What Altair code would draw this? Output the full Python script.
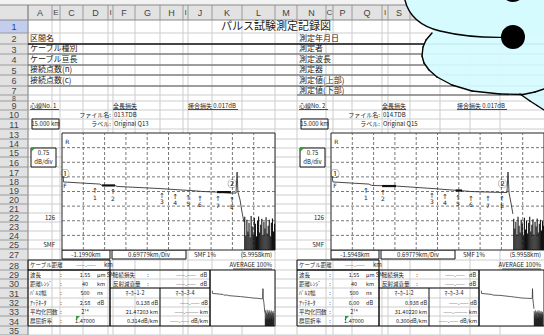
import altair as alt
import numpy as np
import pandas as pd

W, H = 544, 335
JP = "Noto Sans CJK JP"
LAT = "Liberation Sans"
SYM = "DejaVu Sans"
CYAN = "#d6fbff"

# ---------------- spreadsheet structure ----------------
col_names = ["", "A", "E", "C", "D", "I", "F", "G", "H", "I", "J", "K", "L",
             "M", "N", "C", "P", "Q", "I", "S", "T", "U", "V", "W"]
col_widths = [28, 24, 8, 23, 25, 5, 22, 25, 23, 5, 24, 30, 33,
              22, 29, 7, 19, 30, 6, 22, 30, 30, 30, 44]
row_labels = ["1", "2", "3", "4", "5", "6", "7", "8", "9", "10", "11",
              "13", "14", "15", "16", "17", "18", "19", "20", "21", "22", "23", "24", "25",
              "27", "28", "29", "30", "31", "32", "33", "34", "35"]
row_heights = [13, 11, 10, 11, 10, 11, 9, 6, 9, 9, 10,
               10, 9, 9, 10, 10, 9, 9, 9, 9, 9, 9, 9, 9,
               11, 10, 9, 9, 10, 9, 9, 10, 9]

# ---------------- sheet texts ----------------
title_text = "パルス試験測定記録図"
left_form_labels = ["区間名", "ケーブル種別", "ケーブル亘長", "接続点数(n)", "接続点数(c)"]
right_form_labels = ["測定年月日", "測定者", "測定波長", "測定器", "測定値(上部)", "測定値(下部)"]
param_labels = ["波長", "距離ﾚﾝｼﾞ", "ﾊﾟﾙｽ幅", "ｱｯﾃﾈｰﾀ", "平均化回数", "群屈折率"]
param_units = ["μm SM", "km", "ns", "dB", "", ""]
loss_labels = ["接続損失", "反射減衰量"]
marker_heads = ["ﾏｰｶｰ1-2", "ﾏｰｶｰ3-4"]
m34_values = ["——.—— dB", "——.——— km", "——.—— dB/km"]
core_names = ["心線No. 1", "心線No. 2"]
file_names = ["013.TDB", "014.TDB"]
trace_names = ["Original Q13", "Original Q15"]
range_texts = ["15.000 km", "15.000 km"]
scale_texts = ["0.75", "0.75"]
ch_texts = ["126", "126"]
fiber_texts = ["SMF", "SMF"]
start_texts = ["-1.1990km", "-1.5948km"]
div_texts = ["0.69779km/Div", "0.69779km/Div"]
ior_texts = ["SMF 1%", "SMF 1%"]
total_texts = ["(5.9958km)", "(5.9958km)"]
avg_text = "AVERAGE 100%"
splice_text = "接合損失 0.017dB"
total_loss_label = "全長損失"
param_values = [["1.55", "40", "500", "2.58", "2¹⁴", "1.47000"],
                ["1.55", "40", "500", "6.00", "2¹⁴", "1.47000"]]
m12_values = [["0.138 dB", "21.47203 km", "0.314dB/km"],
              ["0.938 dB", "31.40220 km", "0.300dB/km"]]

# ---------------- OTDR traces (distance in divisions, level in dB) ----------------
trace_dist = [
    [0.05, 0.07, 1.78, 1.88, 2.49, 2.58, 4.60, 5.31, 6.01, 6.62, 7.28, 7.93, 8.17, 8.22, 8.26, 8.36, 8.45, 8.54],
    [0.05, 0.09, 1.78, 1.92, 3.05, 4.79, 5.40, 6.01, 6.57, 7.37, 8.12, 8.26, 8.31, 8.36, 8.45, 8.54],
]
trace_db = [
    [3.79, 3.49, 3.38, 3.31, 3.31, 3.26, 3.15, 3.10, 3.05, 3.00, 2.97, 2.92, 2.92, 4.00, 2.97, 2.56, 1.95, 1.44],
    [3.79, 3.49, 3.38, 3.31, 3.28, 3.15, 3.10, 3.05, 3.00, 2.97, 2.95, 2.95, 4.00, 2.92, 2.41, 1.85],
]
noise_dist = [8.58, 8.63, 8.68, 8.73, 8.78, 8.83, 8.88, 8.93, 8.98, 9.03, 9.08, 9.13, 9.18, 9.23, 9.28,
              9.33, 9.38, 9.43, 9.48, 9.53, 9.58, 9.63, 9.68, 9.73, 9.78, 9.83, 9.88, 9.93, 9.98]
noise_db = [
    [1.70, 0.75, 1.55, 0.95, 1.40, 0.65, 1.75, 1.20, 0.80, 1.65, 1.35, 0.70, 1.50, 1.72, 0.90,
     1.30, 1.60, 0.75, 1.45, 1.10, 1.68, 0.85, 1.25, 1.55, 0.70, 1.40, 1.62, 0.95, 1.35],
    [1.60, 1.10, 1.45, 0.80, 1.70, 1.25, 0.90, 1.55, 1.35, 0.75, 1.65, 1.05, 1.50, 0.85, 1.40,
     1.70, 0.95, 1.30, 1.58, 0.80, 1.45, 1.20, 1.62, 0.90, 1.35, 1.55, 1.00, 1.48, 1.25],
]
event_labels = ["1", "2", "3", "4", "5", "6", "7", "E"]
event_dist = [[1.55, 2.39, 4.69, 5.31, 5.92, 6.48, 7.32, 7.98],
              [1.64, 2.44, 4.74, 5.35, 5.96, 6.57, 7.37, 8.03]]
event_db = [[3.38, 3.31, 3.15, 3.10, 3.05, 3.00, 2.97, 2.92],
            [3.38, 3.30, 3.15, 3.10, 3.05, 3.00, 2.97, 2.95]]
thick_from = [[1.88, 7.28], [2.40, 5.85]]
thick_to = [[2.49, 7.93], [3.05, 6.15]]
thick_db = [[3.31, 2.97], [3.28, 3.05]]
circle_marks = ["①", "②"]
circle_dist = [[0.14, 7.98], [0.19, 8.05]]
circle_db = [[3.90, 3.38], [3.90, 3.40]]
grid_dist = [1, 2, 3, 4, 5, 6, 7, 8, 9]
grid_db = [0.75, 1.5, 2.25, 3.0, 3.75, 4.5, 5.25]

# ---------------- layout ----------------
HEAD_TOP, HEAD_BOT = 5, 20
BLOCK_X = [28, 297]
PLOT_DX, PLOT_Y = (34, 247), (250, 133)
MINI_DX, MINI_Y = (184, 246), (326, 270)
SHEET_X = [-100, 800]
SHEET_Y = [-100, 500]

col_edges = [0]
for w in col_widths:
    col_edges.append(col_edges[-1] + w)
row_edges = [HEAD_BOT]
for h in row_heights:
    row_edges.append(row_edges[-1] + h)
row_top = {lab: row_edges[i] for i, lab in enumerate(row_labels)}
row_bot = {lab: row_edges[i + 1] for i, lab in enumerate(row_labels)}


def rc(lab):
    return (row_top[lab] + row_bot[lab]) / 2


def sx():
    return alt.Scale(domain=SHEET_X, range=SHEET_X, nice=False, zero=False)


def sy():
    return alt.Scale(domain=SHEET_Y, range=SHEET_Y, nice=False, zero=False)


def rect_layer(rows, **mark):
    df = pd.DataFrame(rows, columns=["x0", "x1", "y0", "y1", "fill"])
    return alt.Chart(df).mark_rect(**mark).encode(
        x=alt.X("x0:Q", scale=sx(), axis=None), x2="x1:Q",
        y=alt.Y("y0:Q", scale=sy(), axis=None), y2="y1:Q",
        fill=alt.Fill("fill:N", scale=None))


def rule_layer(rows, **mark):
    df = pd.DataFrame(rows, columns=["x0", "x1", "y0", "y1", "c", "w"])
    return alt.Chart(df).mark_rule(**mark).encode(
        x=alt.X("x0:Q", scale=sx(), axis=None), x2="x1:Q",
        y=alt.Y("y0:Q", scale=sy(), axis=None), y2="y1:Q",
        color=alt.Color("c:N", scale=None),
        strokeWidth=alt.StrokeWidth("w:Q", scale=None))


texts = []


def add(x, y, text, align="left", size=6, color="#222", font=JP):
    texts.append(dict(x=x, y=y, text=text, align=align, size=size, color=color, font=font))


layers = []

# background bands
layers.append(rect_layer([
    (0, W, 0, HEAD_TOP, "#f2f2f2"),
    (0, W, HEAD_TOP, HEAD_BOT, "#e2e2e2"),
    (0, col_edges[1], HEAD_BOT, H, "#e2e2e2"),
    (0, col_edges[1], row_top["1"], row_bot["1"], "#c3cdee"),
]))

# grid lines
grid = []
for e in col_edges[1:-1]:
    grid.append((e, e, HEAD_BOT, H, "#cdcdcd", 1))
    grid.append((e, e, HEAD_TOP, HEAD_BOT, "#9a9a9a", 1))
for r in row_edges[1:]:
    grid.append((col_edges[1], W, r, r, "#cdcdcd", 1))
    grid.append((0, col_edges[1], r, r, "#9a9a9a", 1))
grid.append((0, W, HEAD_TOP, HEAD_TOP, "#8a8a8a", 1))
grid.append((0, W, HEAD_BOT, HEAD_BOT, "#8a8a8a", 1))
grid.append((col_edges[1], col_edges[1], HEAD_TOP, H, "#8a8a8a", 1))
layers.append(rule_layer(grid))

# form lines (rows 2-7)
form = [(BLOCK_X[0], W, row_bot["2"], row_bot["2"], "#111", 1.6)]
for lab in ["3", "4", "5", "6"]:
    form.append((BLOCK_X[0], W, row_bot[lab], row_bot[lab], "#555", 1))
form.append((BLOCK_X[1], W, row_bot["7"], row_bot["7"], "#555", 1))
layers.append(rule_layer(form))

# header texts
for i, name in enumerate(col_names):
    if name:
        add((col_edges[i] + col_edges[i + 1]) / 2, (HEAD_TOP + HEAD_BOT) / 2 + 0.5, name,
            "center", 9 if col_widths[i] > 8 else 8, "#444", LAT)
for lab in row_labels:
    add(col_edges[1] / 2, rc(lab) + 0.5, lab, "center", 9 if row_bot[lab] - row_top[lab] > 7 else 7,
        "#1f3f8f" if lab == "1" else "#444", LAT)

add(276, rc("1") + 0.5, title_text, "center", 11, "#222")
for i, t in enumerate(left_form_labels):
    add(BLOCK_X[0] + 2, rc(str(i + 2)), t, "left", 8)
for i, t in enumerate(right_form_labels):
    add(BLOCK_X[1] + 2, rc(str(i + 2)), t, "left", 8)

white_boxes, open_boxes, inner_lines, underlines, greens = [], [], [], [], []
for b in range(2):
    bx = BLOCK_X[b]
    add(bx + 2, rc("9"), core_names[b])
    add(bx + 85, rc("9"), total_loss_label)
    add(bx + 160, rc("9"), splice_text)
    underlines += [(bx + 2, bx + 31, rc("9") + 4, rc("9") + 4, "#222", 0.8),
                   (bx + 85, bx + 109, rc("9") + 4, rc("9") + 4, "#222", 0.8),
                   (bx + 160, bx + 210, rc("9") + 4, rc("9") + 4, "#222", 0.8),
                   (bx + 205, bx + 244, rc("28") + 4, rc("28") + 4, "#222", 0.8)]
    add(bx + 83, rc("10"), "ファイル名:", "right")
    add(bx + 86, rc("10"), file_names[b])
    add(bx + 83, rc("11"), "ラベル:", "right")
    add(bx + 86, rc("11"), trace_names[b])
    white_boxes.append((bx + 4, bx + 31, row_top["11"], row_bot["11"], "white"))
    add(bx + 17.5, rc("11"), range_texts[b], "center")
    white_boxes.append((bx + 3, bx + 28, row_top["15"], row_bot["16"], "white"))
    add(bx + 15.5, rc("15"), scale_texts[b], "center")
    add(bx + 15.5, rc("16"), "dB/div", "center")
    greens.append((bx + 5, row_top["15"] + 2))
    add(bx + 27, rc("22"), ch_texts[b], "right")
    add(bx + 27, rc("25"), fiber_texts[b], "right")
    # row 27
    white_boxes.append((bx + 34, bx + 82, row_top["27"] + 1, row_bot["27"] - 1, "white"))
    white_boxes.append((bx + 84, bx + 158, row_top["27"] + 1, row_bot["27"] - 1, "white"))
    add(bx + 58, rc("27"), start_texts[b], "center")
    add(bx + 121, rc("27"), div_texts[b], "center")
    add(bx + 177, rc("27"), ior_texts[b], "center")
    add(bx + 244, rc("27"), total_texts[b], "right")
    # row 28
    open_boxes.append((bx, bx + 82, row_top["28"], row_bot["28"], "none"))
    add(bx + 2, rc("28"), "ケーブル距離", size=5.5)
    add(bx + 58, rc("28"), "——.——", "center", 5.5)
    add(bx + 76, rc("28"), "km")
    add(bx + 244, rc("28"), avg_text, "right")
    # table rows 29-34
    rows6 = ["29", "30", "31", "32", "33", "34"]
    open_boxes.append((bx, bx + 82, row_top["29"], row_bot["34"], "none"))
    open_boxes.append((bx + 82, bx + 182, row_top["29"], row_bot["34"], "none"))
    inner_lines.append((bx + 82, bx + 182, row_top["31"], row_top["31"], "#111", 1))
    inner_lines.append((bx + 132, bx + 132, row_top["31"], row_bot["34"], "#111", 1))
    for k, r in enumerate(rows6):
        add(bx + 2, rc(r), param_labels[k], size=5.5)
        add(bx + 33, rc(r), ":", "center", 5.5)
        add(bx + 57, rc(r), param_values[b][k], "center", 5.5)
        add(bx + 69, rc(r), param_units[k], size=5.5)
    greens.append((bx + 50, row_top["34"] + 2))
    for k, r in enumerate(["29", "30"]):
        add(bx + 85, rc(r), loss_labels[k], size=5.5)
        add(bx + 120, rc(r), ":", "center", 5.5)
        add(bx + 168, rc(r), "——.——", "right", 5.5)
        add(bx + 172, rc(r), "dB", size=5.5)
    add(bx + 107, rc("31"), marker_heads[0], "center", 5.5)
    add(bx + 157, rc("31"), marker_heads[1], "center", 5.5)
    for k, r in enumerate(["32", "33", "34"]):
        add(bx + 130, rc(r), m12_values[b][k], "right", 5.5)
        add(bx + 180, rc(r), m34_values[k], "right", 5.5)
    # mini panel background
    white_boxes.append((bx + MINI_DX[0] - 2, min(bx + MINI_DX[1] + 1, W), row_top["29"], row_bot["34"], "white"))

layers.append(rect_layer(white_boxes, stroke="#111", strokeWidth=1))
layers.append(alt.Chart(pd.DataFrame(open_boxes, columns=["x0", "x1", "y0", "y1", "fill"])).mark_rect(
    fillOpacity=0, stroke="#111", strokeWidth=1).encode(
    x=alt.X("x0:Q", scale=sx(), axis=None), x2="x1:Q",
    y=alt.Y("y0:Q", scale=sy(), axis=None), y2="y1:Q"))
layers.append(rule_layer(inner_lines + underlines))

# ---------------- OTDR plots ----------------
for b in range(2):
    bx = BLOCK_X[b]

    def PX():
        return alt.Scale(domain=[0, 10], range=[bx + PLOT_DX[0], bx + PLOT_DX[1]], nice=False, zero=False)

    def PY():
        return alt.Scale(domain=[0, 6], range=[PLOT_Y[0], PLOT_Y[1]], nice=False, zero=False)

    def MX():
        return alt.Scale(domain=[0, 10], range=[bx + MINI_DX[0], bx + MINI_DX[1]], nice=False, zero=False)

    def MY():
        return alt.Scale(domain=[0, 6], range=[MINI_Y[0], MINI_Y[1]], nice=False, zero=False)

    frame = pd.DataFrame({"a": [0], "b": [10], "lo": [0], "hi": [6]})
    layers.append(alt.Chart(frame).mark_rect(fill="white", stroke="#222", strokeWidth=1).encode(
        x=alt.X("a:Q", scale=PX(), axis=None), x2="b:Q",
        y=alt.Y("lo:Q", scale=PY(), axis=None), y2="hi:Q"))
    gx = pd.DataFrame({"d": grid_dist, "lo": 0, "hi": 6})
    layers.append(alt.Chart(gx).mark_rule(color="#555", strokeWidth=0.8, strokeDash=[3, 2]).encode(
        x=alt.X("d:Q", scale=PX(), axis=None),
        y=alt.Y("lo:Q", scale=PY(), axis=None), y2="hi:Q"))
    gy = pd.DataFrame({"v": grid_db, "lo": 0, "hi": 10})
    layers.append(alt.Chart(gy).mark_rule(color="#555", strokeWidth=0.8, strokeDash=[3, 2]).encode(
        x=alt.X("lo:Q", scale=PX(), axis=None), x2="hi:Q",
        y=alt.Y("v:Q", scale=PY(), axis=None)))

    tr = pd.DataFrame({"d": trace_dist[b], "db": trace_db[b], "i": list(range(len(trace_db[b])))})
    nz = pd.DataFrame({"d": noise_dist, "db": noise_db[b], "z": 0})
    for xs, ys, lw, nw in [(PX, PY, 0.9, 1.1), (MX, MY, 0.8, 0.6)]:
        layers.append(alt.Chart(tr).mark_line(color="#333", strokeWidth=lw).encode(
            x=alt.X("d:Q", scale=xs(), axis=None),
            y=alt.Y("db:Q", scale=ys(), axis=None),
            order="i:Q"))
        layers.append(alt.Chart(nz).mark_rule(color="#111", strokeWidth=nw).encode(
            x=alt.X("d:Q", scale=xs(), axis=None),
            y=alt.Y("db:Q", scale=ys(), axis=None), y2="z:Q"))

    th = pd.DataFrame({"a": thick_from[b], "b": thick_to[b], "db": thick_db[b]})
    layers.append(alt.Chart(th).mark_rule(color="#111", strokeWidth=2.2).encode(
        x=alt.X("a:Q", scale=PX(), axis=None), x2="b:Q",
        y=alt.Y("db:Q", scale=PY(), axis=None)))

    ev = pd.DataFrame({"d": event_dist[b], "db": event_db[b], "t": event_labels})
    layers.append(alt.Chart(ev).mark_text(font=SYM, fontSize=7, dy=7, color="#222").encode(
        x=alt.X("d:Q", scale=PX(), axis=None),
        y=alt.Y("db:Q", scale=PY(), axis=None),
        text=alt.value("↑")))
    layers.append(alt.Chart(ev).mark_text(font=SYM, fontSize=6, dy=13.5, color="#222").encode(
        x=alt.X("d:Q", scale=PX(), axis=None),
        y=alt.Y("db:Q", scale=PY(), axis=None),
        text="t:N"))
    cm = pd.DataFrame({"d": circle_dist[b], "db": circle_db[b], "t": circle_marks})
    layers.append(alt.Chart(cm).mark_text(font=JP, fontSize=9, color="#222").encode(
        x=alt.X("d:Q", scale=PX(), axis=None),
        y=alt.Y("db:Q", scale=PY(), axis=None),
        text="t:N"))
    fl = pd.DataFrame({"d": [circle_dist[b][0], 0.25], "db": [3.49, 5.75], "t": ["F", "R"]})
    layers.append(alt.Chart(fl).mark_text(font=SYM, fontSize=6, dy=4, color="#222").encode(
        x=alt.X("d:Q", scale=PX(), axis=None),
        y=alt.Y("db:Q", scale=PY(), axis=None),
        text="t:N"))

# green markers
gdf = pd.DataFrame(greens, columns=["x", "y"])
layers.append(alt.Chart(gdf).mark_point(shape="M -1 -1 L 1 -1 L -1 1 Z", size=16, filled=True,
                                        fill="#2f9a3a", opacity=1, strokeWidth=0).encode(
    x=alt.X("x:Q", scale=sx(), axis=None), y=alt.Y("y:Q", scale=sy(), axis=None)))

# sheet texts
tdf = pd.DataFrame(texts)
for (al, ft), g in tdf.groupby(["align", "font"]):
    layers.append(alt.Chart(g.reset_index(drop=True)).mark_text(align=al, baseline="middle", font=ft).encode(
        x=alt.X("x:Q", scale=sx(), axis=None),
        y=alt.Y("y:Q", scale=sy(), axis=None),
        text="text:N",
        size=alt.Size("size:Q", scale=None),
        color=alt.Color("color:N", scale=None)))

# ---------------- cloud callout ----------------
# lower lobes: cyan scan-line fill bounded by the lobe outline, then the outline itself
lobe_left_x = [434, 432, 426, 423, 422, 424, 429, 437, 452, 472, 500, 521, 530, 537, 544]
lobe_left_y = [28, 33, 40, 47, 56, 63, 70, 77, 85, 91, 94, 95, 101, 105.5, 110]
scan = []
for yy in np.arange(28.0, 110.0, 1.0):
    xl = float(np.interp(yy, lobe_left_y, lobe_left_x))
    scan.append((xl, W + 2, yy, yy, CYAN, 1.6))
layers.append(rule_layer(scan))
lower_edge_x = [432, 426, 423, 422, 424, 429, 437, 452, 472, 500, 523, 535, 544]
lower_edge_y = [33, 40, 47, 56, 63, 70, 77, 85, 91, 94, 94.5, 92, 89]
puff_edge_x = [520, 530, 537, 544]
puff_edge_y = [94, 101, 105.5, 110]
edges = []
for ex, ey in [(lower_edge_x, lower_edge_y), (puff_edge_x, puff_edge_y)]:
    for k in range(len(ex) - 1):
        edges.append((ex[k], ex[k + 1], ey[k], ey[k + 1], "black", 1.4))
layers.append(rule_layer(edges, strokeCap="round"))

# upper lobe
cloud_anchor = pd.DataFrame({"x": [490], "y": [0]})
top_fill = "M -86 -5 C -84 10 -75 25 -50 31 C -25 37 5 38 25 37 C 50 36 70 30 90 20 L 90 -5 Z"
top_edge = "M -86 -5 C -84 10 -75 25 -50 31 C -25 37 5 38 25 37"
layers.append(alt.Chart(cloud_anchor).mark_point(shape=top_fill, size=4, filled=True, fill=CYAN,
                                                 strokeWidth=0, opacity=1).encode(
    x=alt.X("x:Q", scale=sx(), axis=None), y=alt.Y("y:Q", scale=sy(), axis=None)))
layers.append(alt.Chart(cloud_anchor).mark_point(shape=top_edge, size=4, filled=False,
                                                 stroke="black", strokeWidth=1.4, opacity=1).encode(
    x=alt.X("x:Q", scale=sx(), axis=None), y=alt.Y("y:Q", scale=sy(), axis=None)))
dots = pd.DataFrame({"x": [513, 513], "y": [37, -10]})
layers.append(alt.Chart(dots).mark_point(shape="circle", size=576, filled=True, fill="black",
                                         opacity=1, strokeWidth=0).encode(
    x=alt.X("x:Q", scale=sx(), axis=None), y=alt.Y("y:Q", scale=sy(), axis=None)))

chart = alt.layer(*layers).resolve_scale(x="independent", y="independent").properties(
    width=W, height=H, padding=0, background="white",
    autosize=alt.AutoSizeParams(type="none")
).configure_view(stroke=None)

chart.save("out.html", embed_options={"renderer": "svg", "actions": False})
